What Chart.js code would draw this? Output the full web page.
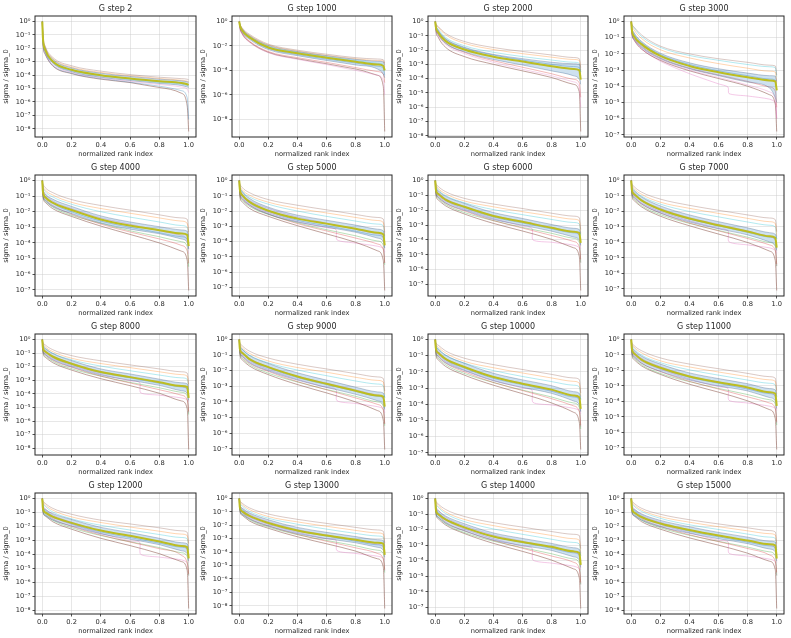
<!DOCTYPE html>
<html>
<head>
<meta charset="utf-8">
<script src="https://cdn.jsdelivr.net/npm/chart.js@4.4.1/dist/chart.umd.min.js"></script>
<style>
  html, body { margin: 0; padding: 0; background: #fff; }
  #wrap { position: relative; width: 791px; height: 638px; overflow: hidden; }
  #wrap canvas { position: absolute; }
</style>
</head>
<body>
<div id="wrap"></div>
<script>
// ---- data ----
const STEPS = [2, 1000, 2000, 3000, 4000, 5000, 6000, 7000, 8000, 9000, 10000, 11000, 12000, 13000, 14000, 15000];
const X = [0, 0.004, 0.02, 0.07, 0.2, 0.4, 0.6, 0.8, 0.95, 0.99, 1];
const X_KINK = [0, 0.004, 0.02, 0.07, 0.2, 0.4, 0.6, 0.665, 0.672, 0.8, 0.95, 0.99, 1];
const X_TICKS = [0, 0.2, 0.4, 0.6, 0.8, 1.0];
const Y_DECADES = [1, 1e-1, 1e-2, 1e-3, 1e-4, 1e-5, 1e-6, 1e-7, 1e-8, 1e-9];
const Y_LABELS = ['10⁰', '10⁻¹', '10⁻²', '10⁻³', '10⁻⁴', '10⁻⁵', '10⁻⁶', '10⁻⁷', '10⁻⁸', '10⁻⁹'];
const Y_LABEL_STEP = [1, 2, 1, 1, 1, 1, 1, 1, 1, 1, 1, 1, 1, 1, 1, 1];
const RUN_COLORS = ['#8c564b', '#ff7f0e', '#17becf', '#e377c2', '#1f77b4', '#d62728', '#2ca02c', '#8c564b'];

// step 2
const MEAN_2 = [1, 6.3e-2, 7.9e-3, 1.1e-3, 2.5e-4, 1e-4, 5.6e-5, 3.5e-5, 2.6e-5, 2.1e-5, 1.9e-5];
const HI_2 = [1, 8e-2, 1.1e-2, 1.6e-3, 3.5e-4, 1.4e-4, 8e-5, 5e-5, 3.8e-5, 3.2e-5, 3e-5];
const LO_2 = [1, 4.5e-2, 5.6e-3, 8e-4, 1.8e-4, 7e-5, 4e-5, 2.4e-5, 1.7e-5, 1.3e-5, 1.2e-5];
const RUNS_2 = [
  [1, 0.1, 1.5e-2, 2.2e-3, 5e-4, 2e-4, 1.1e-4, 7e-5, 5.5e-5, 5e-5, 4.5e-5],
  [1, 8e-2, 1.2e-2, 1.8e-3, 4e-4, 1.6e-4, 9e-5, 5.6e-5, 4.2e-5, 3.6e-5, 3.2e-5],
  [1, 5e-2, 6.3e-3, 9e-4, 2.2e-4, 9e-5, 5e-5, 3e-5, 2.2e-5, 1.7e-5, 1.5e-5],
  [1, 3.5e-2, 4.5e-3, 6.3e-4, 1.6e-4, 6.3e-5, 3.5e-5, 2e-5, 1.3e-5, 9e-6, 5e-6],
  [1, 3e-2, 4e-3, 5.6e-4, 1.4e-4, 5.6e-5, 3e-5, 1.5e-5, 7e-6, 2e-6, 5e-8],
  [1, 2.5e-2, 3.5e-3, 5e-4, 1.3e-4, 5e-5, 2.8e-5, 1.2e-5, 4.5e-6, 5e-7, 6.3e-9]
];

// step 1000
const MEAN_1000 = [1, 0.5, 0.18, 5e-2, 7.5e-3, 2.5e-3, 1.1e-3, 5.2e-4, 3e-4, 2.3e-4, 1e-4];
const HI_1000 = [1, 0.6, 0.25, 7e-2, 1.1e-2, 3.5e-3, 1.6e-3, 8e-4, 5.5e-4, 5e-4, 3e-4];
const LO_1000 = [1, 0.4, 0.13, 3.5e-2, 5e-3, 1.6e-3, 6.5e-4, 2.8e-4, 1.3e-4, 5e-5, 2.5e-5];
const RUNS_1000 = [
  [1, 0.65, 0.3, 9e-2, 1.4e-2, 4.5e-3, 2.1e-3, 1.1e-3, 8.5e-4, 7.5e-4, 4e-4],
  [1, 0.6, 0.25, 7.5e-2, 1.2e-2, 3.8e-3, 1.7e-3, 9e-4, 6.5e-4, 6e-4, 2e-4],
  [1, 0.55, 0.2, 6e-2, 9e-3, 3e-3, 1.3e-3, 6.3e-4, 3.8e-4, 3e-4, 1e-4],
  [1, 0.3, 9e-2, 2e-2, 2.8e-3, 8e-4, 3e-4, 1e-4, 4e-5, 1.5e-5, 1e-6],
  [1, 0.45, 0.16, 4.5e-2, 6.3e-3, 2e-3, 8.5e-4, 4e-4, 2.2e-4, 1.5e-4, 4e-5],
  [1, 0.35, 0.11, 2.5e-2, 3.5e-3, 1.1e-3, 4.5e-4, 1.7e-4, 8e-5, 5e-5, 1e-5],
  [1, 0.35, 0.1, 2.2e-2, 3e-3, 9e-4, 3.5e-4, 1.3e-4, 4e-5, 5e-6, 1e-9]
];

// step 2000
const MEAN_2000 = [1, 0.4, 0.17, 4.4e-2, 1.1e-2, 3.4e-3, 1.6e-3, 7.4e-4, 4.8e-4, 3.9e-4, 8.5e-5];
const HI_2000 = [1, 0.55, 0.25, 6.5e-2, 1.6e-2, 5e-3, 2.5e-3, 1.4e-3, 1.1e-3, 1e-3, 3e-4];
const LO_2000 = [1, 0.3, 0.12, 3e-2, 7.5e-3, 2.2e-3, 9e-4, 3.5e-4, 1.6e-4, 9e-5, 4e-5];
const RUNS_2000 = [
  [1, 0.7, 0.45, 0.15, 4e-2, 1.5e-2, 8e-3, 4.5e-3, 3e-3, 2.5e-3, 6e-4],
  [1, 0.65, 0.4, 0.12, 3e-2, 1.1e-2, 5.6e-3, 3.2e-3, 2.2e-3, 1.9e-3, 4e-4],
  [1, 0.55, 0.3, 8e-2, 2e-2, 7e-3, 3.5e-3, 2e-3, 1.4e-3, 1.2e-3, 3e-4],
  [1, 0.3, 0.1, 2.5e-2, 5.6e-3, 1.4e-3, 4.5e-4, 1.6e-4, 6e-5, 2.5e-5, 1e-6],
  [1, 0.5, 0.22, 6e-2, 1.4e-2, 4.5e-3, 2e-3, 1e-3, 7e-4, 6e-4, 1.5e-4],
  [1, 0.35, 0.13, 3.2e-2, 7e-3, 1.8e-3, 6.3e-4, 2.2e-4, 9e-5, 5e-5, 5e-6],
  [1, 0.25, 8e-2, 1.6e-2, 3.5e-3, 1e-3, 3.5e-4, 1.2e-4, 4e-5, 1.2e-5, 2e-8]
];

// step 3000
const MEAN_3000 = [1, 0.3, 0.12, 4e-2, 7.5e-3, 1.8e-3, 7.4e-4, 3.6e-4, 2.3e-4, 2e-4, 5.6e-5];
const HI_3000 = [1, 0.45, 0.2, 6e-2, 1.1e-2, 2.8e-3, 1.2e-3, 6.5e-4, 4.5e-4, 4.3e-4, 2e-4];
const LO_3000 = [1, 0.2, 8e-2, 2.5e-2, 5e-3, 1.2e-3, 4.5e-4, 1.8e-4, 8e-5, 2e-5, 1e-5];
const RUNS_3000 = [
  [1, 0.7, 0.45, 0.15, 3e-2, 1e-2, 5e-3, 3e-3, 2e-3, 1.8e-3, 5e-4],
  [1, 0.6, 0.3, 9e-2, 1.8e-2, 5.6e-3, 2.5e-3, 1.3e-3, 8.5e-4, 7.5e-4, 1.5e-4],
  [1, 0.65, 0.4, 0.12, 2.5e-2, 8e-3, 4e-3, 2.2e-3, 1.6e-3, 1.4e-3, 4e-4],
  [1, 0.2, 8e-2, 2.2e-2, 4.5e-3, 1e-3, 3.5e-4, 1.2e-4, 4.5e-5, 1.5e-5, 1e-6],
  [1, 0.4, 0.16, 5e-2, 9e-3, 2.2e-3, 9e-4, 4.5e-4, 2.8e-4, 2.4e-4, 6e-5],
  [1, 0.25, 0.1, 3e-2, 5.6e-3, 1.3e-3, 5e-4, 2e-4, 9e-5, 5e-5, 5e-6],
  [1, 0.2, 7e-2, 2e-2, 4e-3, 9e-4, 3e-4, 1e-4, 3e-5, 8e-6, 1.6e-7]
];
const KINK_3000 = [1, 0.2, 7e-2, 2e-2, 3.5e-3, 6e-4, 1.4e-4, 9e-5, 3.5e-5, 2.5e-5, 1.6e-5, 1e-5, 1e-6];

// step 4000
const MEAN_4000 = [1, 0.2, 8.5e-2, 3.8e-2, 1.3e-2, 3.2e-3, 1.3e-3, 6.6e-4, 4e-4, 3.3e-4, 6.3e-5];
const HI_4000 = [1, 0.32, 0.14, 6.5e-2, 2.2e-2, 5.4e-3, 2.2e-3, 1.1e-3, 6.8e-4, 5.6e-4, 2.5e-4];
const LO_4000 = [1, 0.125, 5e-2, 2.2e-2, 7.6e-3, 1.9e-3, 7.6e-4, 3.9e-4, 1.8e-4, 1.1e-4, 4.2e-5];
const RUNS_4000 = [
  [1, 0.63, 0.35, 0.17, 6e-2, 2.5e-2, 1.26e-2, 6.3e-3, 4e-3, 3.3e-3, 5e-4],
  [1, 0.5, 0.25, 0.12, 4e-2, 1.6e-2, 8e-3, 4e-3, 2.5e-3, 1.8e-3, 3e-4],
  [1, 0.45, 0.2, 9e-2, 3e-2, 1e-2, 4.5e-3, 2.2e-3, 1.3e-3, 1e-3, 2e-4],
  [1, 0.35, 0.14, 5e-2, 1.6e-2, 4e-3, 1.6e-3, 6e-4, 3e-4, 1.5e-4, 2e-5],
  [1, 0.25, 0.1, 3.5e-2, 1e-2, 2.5e-3, 1e-3, 4.5e-4, 2.5e-4, 1.8e-4, 4e-5],
  [1, 0.15, 6e-2, 2.5e-2, 7e-3, 1.6e-3, 5e-4, 1.8e-4, 7e-5, 3e-5, 5e-6],
  [1, 0.12, 5e-2, 2e-2, 6e-3, 1.8e-3, 6e-4, 2.5e-4, 1.2e-4, 6e-5, 3e-6],
  [1, 0.1, 4e-2, 1.6e-2, 5e-3, 1.2e-3, 3.5e-4, 1e-4, 3e-5, 8e-6, 9e-8]
];

// step 5000
const MEAN_5000 = [1, 0.25, 0.11, 4e-2, 1.05e-2, 3.2e-3, 1.5e-3, 7e-4, 3.8e-4, 3e-4, 5.6e-5];
const HI_5000 = [1, 0.4, 0.19, 6.8e-2, 1.8e-2, 5.4e-3, 2.5e-3, 1.2e-3, 6.5e-4, 5.1e-4, 2.2e-4];
const LO_5000 = [1, 0.16, 6.5e-2, 2.4e-2, 6.2e-3, 1.9e-3, 8.8e-4, 4.1e-4, 1.7e-4, 1e-4, 3.7e-5];
const RUNS_5000 = [
  [1, 0.63, 0.35, 0.16, 5.6e-2, 2.4e-2, 1.2e-2, 6e-3, 3.8e-3, 3e-3, 4e-4],
  [1, 0.5, 0.25, 0.11, 3.8e-2, 1.5e-2, 7.5e-3, 3.8e-3, 2.4e-3, 1.8e-3, 2.5e-4],
  [1, 0.45, 0.2, 8.5e-2, 2.8e-2, 1e-2, 4.5e-3, 2.2e-3, 1.4e-3, 1.1e-3, 1.6e-4],
  [1, 0.35, 0.14, 5e-2, 1.5e-2, 4e-3, 1.6e-3, 6.3e-4, 3.2e-4, 1.8e-4, 2e-5],
  [1, 0.25, 0.1, 3.5e-2, 1e-2, 2.5e-3, 1.1e-3, 4.8e-4, 2.6e-4, 1.9e-4, 4e-5],
  [1, 0.15, 6e-2, 2.4e-2, 6.5e-3, 1.5e-3, 5e-4, 1.7e-4, 7e-5, 3e-5, 4e-6],
  [1, 0.12, 5e-2, 2e-2, 6e-3, 1.7e-3, 6e-4, 2.4e-4, 1.1e-4, 6e-5, 3e-6],
  [1, 0.1, 4e-2, 1.5e-2, 4.5e-3, 1.1e-3, 3.2e-4, 9e-5, 2.5e-5, 6e-6, 6.3e-8]
];
const KINK_5000 = [1, 0.2, 8e-2, 2.8e-2, 8e-3, 2e-3, 8e-4, 6.3e-4, 1.3e-4, 8e-5, 5e-5, 3.5e-5, 4e-6];

// step 6000
const MEAN_6000 = [1, 0.25, 0.126, 5.2e-2, 1.7e-2, 4.1e-3, 1.66e-3, 6.6e-4, 3.6e-4, 3e-4, 6.3e-5];
const HI_6000 = [1, 0.4, 0.21, 8.8e-2, 2.9e-2, 7e-3, 2.8e-3, 1.1e-3, 6.1e-4, 5.1e-4, 2.5e-4];
const LO_6000 = [1, 0.16, 7.4e-2, 3.1e-2, 1e-2, 2.4e-3, 9.8e-4, 3.9e-4, 1.6e-4, 1e-4, 4.2e-5];
const RUNS_6000 = [
  [1, 0.63, 0.4, 0.18, 6.3e-2, 2.6e-2, 1.3e-2, 6.3e-3, 4e-3, 3.2e-3, 5e-4],
  [1, 0.55, 0.3, 0.13, 4.2e-2, 1.7e-2, 8e-3, 4e-3, 2.5e-3, 2e-3, 3e-4],
  [1, 0.5, 0.25, 0.1, 3.2e-2, 1.1e-2, 5e-3, 2.4e-3, 1.5e-3, 1.2e-3, 2e-4],
  [1, 0.4, 0.18, 6.3e-2, 1.8e-2, 4.5e-3, 1.8e-3, 7e-4, 3.5e-4, 2e-4, 2.5e-5],
  [1, 0.3, 0.14, 5e-2, 1.5e-2, 3.5e-3, 1.4e-3, 5.6e-4, 3e-4, 2.2e-4, 5e-5],
  [1, 0.2, 8e-2, 3e-2, 9e-3, 2e-3, 6.3e-4, 2e-4, 8e-5, 3.5e-5, 5e-6],
  [1, 0.15, 6.3e-2, 2.5e-2, 7e-3, 2e-3, 7e-4, 2.8e-4, 1.3e-4, 7e-5, 3e-6],
  [1, 0.12, 5e-2, 2e-2, 5.6e-3, 1.3e-3, 4e-4, 1.1e-4, 3e-5, 8e-6, 4e-8]
];
const KINK_6000 = [1, 0.25, 0.1, 4e-2, 1.2e-2, 2.8e-3, 8.5e-4, 6e-4, 1e-4, 7e-5, 4.5e-5, 3e-5, 3e-6];

// step 7000
const MEAN_7000 = [1, 0.25, 0.13, 5.2e-2, 1.35e-2, 3.5e-3, 1.3e-3, 5.2e-4, 2.5e-4, 2e-4, 4.6e-5];
const HI_7000 = [1, 0.4, 0.22, 8.8e-2, 2.3e-2, 6e-3, 2.2e-3, 8.8e-4, 4.3e-4, 3.4e-4, 1.8e-4];
const LO_7000 = [1, 0.16, 7.6e-2, 3.1e-2, 7.9e-3, 2.1e-3, 7.6e-4, 3.1e-4, 1.1e-4, 6.7e-5, 3.1e-5];
const RUNS_7000 = [
  [1, 0.63, 0.4, 0.18, 6.3e-2, 2.5e-2, 1.2e-2, 6e-3, 3.8e-3, 3e-3, 5e-4],
  [1, 0.55, 0.3, 0.13, 4e-2, 1.6e-2, 7.5e-3, 3.6e-3, 2.2e-3, 1.7e-3, 2.5e-4],
  [1, 0.5, 0.25, 0.1, 3e-2, 1e-2, 4.5e-3, 2.1e-3, 1.3e-3, 1e-3, 1.6e-4],
  [1, 0.4, 0.18, 6e-2, 1.6e-2, 4e-3, 1.5e-3, 5.6e-4, 2.5e-4, 1.4e-4, 2e-5],
  [1, 0.3, 0.14, 5e-2, 1.3e-2, 3.2e-3, 1.2e-3, 4.5e-4, 2.2e-4, 1.6e-4, 4e-5],
  [1, 0.2, 8e-2, 3e-2, 8e-3, 1.8e-3, 5.6e-4, 1.8e-4, 7e-5, 3e-5, 4e-6],
  [1, 0.15, 6.3e-2, 2.4e-2, 6.3e-3, 1.7e-3, 6e-4, 2.2e-4, 1e-4, 5.6e-5, 3e-6],
  [1, 0.12, 5e-2, 2e-2, 5e-3, 1.2e-3, 3.5e-4, 1e-4, 2.8e-5, 7e-6, 8e-8]
];
const KINK_7000 = [1, 0.25, 0.1, 3.5e-2, 1e-2, 2.5e-3, 8e-4, 6e-4, 1.1e-4, 7e-5, 4.5e-5, 3e-5, 3e-6];

// step 8000
const MEAN_8000 = [1, 0.25, 0.13, 5.6e-2, 1.66e-2, 4e-3, 1.7e-3, 7.2e-4, 3.8e-4, 3.2e-4, 5e-5];
const HI_8000 = [1, 0.4, 0.22, 9.5e-2, 2.8e-2, 6.8e-3, 2.9e-3, 1.2e-3, 6.5e-4, 5.4e-4, 2e-4];
const LO_8000 = [1, 0.16, 7.6e-2, 3.3e-2, 9.8e-3, 2.4e-3, 1e-3, 4.2e-4, 1.7e-4, 1.1e-4, 3.3e-5];
const RUNS_8000 = [
  [1, 0.63, 0.4, 0.18, 6.5e-2, 2.7e-2, 1.35e-2, 6.8e-3, 4.2e-3, 3.4e-3, 5e-4],
  [1, 0.55, 0.3, 0.13, 4.2e-2, 1.7e-2, 8.5e-3, 4.2e-3, 2.6e-3, 2e-3, 3e-4],
  [1, 0.5, 0.25, 0.1, 3.2e-2, 1.1e-2, 5e-3, 2.4e-3, 1.5e-3, 1.2e-3, 2e-4],
  [1, 0.4, 0.18, 6.3e-2, 1.8e-2, 4.5e-3, 1.8e-3, 7e-4, 3.5e-4, 2e-4, 2.5e-5],
  [1, 0.3, 0.14, 5e-2, 1.5e-2, 3.6e-3, 1.5e-3, 6e-4, 3.2e-4, 2.4e-4, 5e-5],
  [1, 0.2, 8e-2, 3e-2, 9e-3, 2e-3, 6.3e-4, 2e-4, 8e-5, 3.5e-5, 5e-6],
  [1, 0.15, 6.3e-2, 2.5e-2, 7e-3, 2e-3, 7e-4, 2.8e-4, 1.3e-4, 7e-5, 3e-6],
  [1, 0.12, 5e-2, 2e-2, 5.6e-3, 1.3e-3, 4e-4, 1.1e-4, 3e-5, 8e-6, 8e-9]
];
const KINK_8000 = [1, 0.25, 0.1, 4e-2, 1.2e-2, 2.8e-3, 9e-4, 7e-4, 1.2e-4, 8e-5, 5e-5, 3.5e-5, 4e-6];

// step 9000
const MEAN_9000 = [1, 0.25, 0.14, 5.6e-2, 1.7e-2, 4.3e-3, 1.45e-3, 5.2e-4, 2.6e-4, 2.2e-4, 5e-5];
const HI_9000 = [1, 0.4, 0.24, 9.5e-2, 2.9e-2, 7.3e-3, 2.5e-3, 8.8e-4, 4.4e-4, 3.7e-4, 2e-4];
const LO_9000 = [1, 0.16, 8.2e-2, 3.3e-2, 1e-2, 2.5e-3, 8.5e-4, 3.1e-4, 1.2e-4, 7.3e-5, 3.3e-5];
const RUNS_9000 = [
  [1, 0.63, 0.4, 0.18, 6.5e-2, 2.6e-2, 1.3e-2, 6.5e-3, 4e-3, 3.2e-3, 5e-4],
  [1, 0.55, 0.3, 0.13, 4.2e-2, 1.6e-2, 8e-3, 3.8e-3, 2.4e-3, 1.9e-3, 3e-4],
  [1, 0.5, 0.25, 0.1, 3.2e-2, 1.1e-2, 4.8e-3, 2.2e-3, 1.4e-3, 1.1e-3, 1.8e-4],
  [1, 0.4, 0.18, 6.3e-2, 1.8e-2, 4.5e-3, 1.6e-3, 6e-4, 2.8e-4, 1.6e-4, 2e-5],
  [1, 0.3, 0.14, 5e-2, 1.5e-2, 3.6e-3, 1.3e-3, 4.8e-4, 2.3e-4, 1.7e-4, 4e-5],
  [1, 0.2, 8e-2, 3e-2, 9e-3, 2e-3, 6e-4, 1.8e-4, 7e-5, 3e-5, 4e-6],
  [1, 0.15, 6.3e-2, 2.5e-2, 7e-3, 1.9e-3, 6.3e-4, 2.3e-4, 1e-4, 5.6e-5, 3e-6],
  [1, 0.12, 5e-2, 2e-2, 5.6e-3, 1.3e-3, 3.8e-4, 1e-4, 2.8e-5, 7e-6, 9e-8]
];
const KINK_9000 = [1, 0.25, 0.1, 4e-2, 1.2e-2, 2.8e-3, 8.5e-4, 6.5e-4, 1.2e-4, 8e-5, 5e-5, 3.5e-5, 4e-6];

// step 10000
const MEAN_10000 = [1, 0.28, 0.15, 6.3e-2, 2e-2, 4.8e-3, 1.86e-3, 8e-4, 3.5e-4, 2.75e-4, 5.1e-5];
const HI_10000 = [1, 0.45, 0.26, 0.11, 3.4e-2, 8.2e-3, 3.2e-3, 1.4e-3, 6e-4, 4.7e-4, 2e-4];
const LO_10000 = [1, 0.18, 8.8e-2, 3.7e-2, 1.2e-2, 2.8e-3, 1.1e-3, 4.7e-4, 1.6e-4, 9e-5, 3.4e-5];
const RUNS_10000 = [
  [1, 0.63, 0.45, 0.2, 7e-2, 2.8e-2, 1.4e-2, 7e-3, 4.2e-3, 3.4e-3, 5e-4],
  [1, 0.56, 0.35, 0.15, 4.5e-2, 1.8e-2, 8.5e-3, 4.2e-3, 2.6e-3, 2e-3, 3e-4],
  [1, 0.5, 0.28, 0.11, 3.5e-2, 1.2e-2, 5.2e-3, 2.5e-3, 1.5e-3, 1.2e-3, 2e-4],
  [1, 0.4, 0.2, 7e-2, 2e-2, 5e-3, 1.9e-3, 7e-4, 3.2e-4, 1.8e-4, 2.5e-5],
  [1, 0.32, 0.16, 5.6e-2, 1.7e-2, 4e-3, 1.6e-3, 6.3e-4, 2.8e-4, 2e-4, 4e-5],
  [1, 0.22, 9e-2, 3.5e-2, 1e-2, 2.2e-3, 7e-4, 2.2e-4, 8e-5, 3.5e-5, 5e-6],
  [1, 0.16, 7e-2, 2.8e-2, 8e-3, 2.2e-3, 7.5e-4, 2.8e-4, 1.2e-4, 6.3e-5, 3e-6],
  [1, 0.13, 5.6e-2, 2.2e-2, 6.3e-3, 1.5e-3, 4.5e-4, 1.2e-4, 3.2e-5, 8e-6, 1.6e-7]
];
const KINK_10000 = [1, 0.25, 0.12, 4.5e-2, 1.3e-2, 3e-3, 1e-3, 7.5e-4, 1.3e-4, 9e-5, 5.6e-5, 4e-5, 4e-6];

// step 11000
const MEAN_11000 = [1, 0.25, 0.126, 5e-2, 1.5e-2, 4.1e-3, 1.74e-3, 8.1e-4, 4e-4, 3.3e-4, 5.2e-5];
const HI_11000 = [1, 0.4, 0.21, 8.5e-2, 2.6e-2, 7e-3, 3e-3, 1.4e-3, 6.8e-4, 5.6e-4, 2.1e-4];
const LO_11000 = [1, 0.16, 7.4e-2, 2.9e-2, 8.8e-3, 2.4e-3, 1e-3, 4.8e-4, 1.8e-4, 1.1e-4, 3.5e-5];
const RUNS_11000 = [
  [1, 0.63, 0.4, 0.19, 6.5e-2, 2.6e-2, 1.3e-2, 6.5e-3, 4e-3, 3.2e-3, 5e-4],
  [1, 0.55, 0.32, 0.14, 4.2e-2, 1.7e-2, 8e-3, 4e-3, 2.5e-3, 2e-3, 3e-4],
  [1, 0.5, 0.26, 0.1, 3.2e-2, 1.1e-2, 5e-3, 2.4e-3, 1.5e-3, 1.2e-3, 2e-4],
  [1, 0.4, 0.18, 6.3e-2, 1.8e-2, 4.5e-3, 1.8e-3, 7e-4, 3.5e-4, 2e-4, 2.5e-5],
  [1, 0.3, 0.14, 5e-2, 1.4e-2, 3.6e-3, 1.5e-3, 6.3e-4, 3.2e-4, 2.4e-4, 5e-5],
  [1, 0.2, 8e-2, 3e-2, 8.5e-3, 2e-3, 6.3e-4, 2e-4, 8e-5, 3.5e-5, 5e-6],
  [1, 0.15, 6.3e-2, 2.4e-2, 6.5e-3, 1.9e-3, 7e-4, 2.8e-4, 1.3e-4, 7e-5, 3e-6],
  [1, 0.12, 5e-2, 2e-2, 5.6e-3, 1.3e-3, 4e-4, 1.1e-4, 3e-5, 8e-6, 8e-8]
];
const KINK_11000 = [1, 0.25, 0.1, 4e-2, 1.2e-2, 2.8e-3, 9e-4, 7e-4, 1.2e-4, 8e-5, 5e-5, 3.5e-5, 4e-6];

// step 12000
const MEAN_12000 = [1, 0.2, 0.1, 5e-2, 1.8e-2, 5e-3, 2.1e-3, 8.3e-4, 4e-4, 3.3e-4, 5e-5];
const HI_12000 = [1, 0.32, 0.17, 8.5e-2, 3.1e-2, 8.5e-3, 3.6e-3, 1.4e-3, 6.8e-4, 5.6e-4, 2e-4];
const LO_12000 = [1, 0.125, 5.9e-2, 2.9e-2, 1.06e-2, 2.9e-3, 1.2e-3, 4.9e-4, 1.8e-4, 1.1e-4, 3.3e-5];
const RUNS_12000 = [
  [1, 0.7, 0.45, 0.2, 7.4e-2, 2.8e-2, 1.5e-2, 7.9e-3, 4.8e-3, 3.8e-3, 6e-4],
  [1, 0.6, 0.35, 0.15, 4.8e-2, 1.9e-2, 9e-3, 4.5e-3, 2.8e-3, 2.2e-3, 3e-4],
  [1, 0.5, 0.28, 0.11, 3.5e-2, 1.2e-2, 5.5e-3, 2.6e-3, 1.6e-3, 1.3e-3, 2e-4],
  [1, 0.4, 0.2, 7e-2, 2e-2, 5e-3, 2e-3, 8e-4, 4e-4, 2.2e-4, 2.5e-5],
  [1, 0.3, 0.15, 5.6e-2, 1.6e-2, 4e-3, 1.6e-3, 6.3e-4, 3.2e-4, 2.4e-4, 5e-5],
  [1, 0.2, 9e-2, 3.5e-2, 1e-2, 2.4e-3, 7.5e-4, 2.5e-4, 8.5e-5, 2.2e-5, 4e-6],
  [1, 0.15, 7e-2, 2.8e-2, 8e-3, 2.2e-3, 8e-4, 3e-4, 1.3e-4, 7e-5, 3e-6],
  [1, 0.12, 5.6e-2, 2.2e-2, 6.3e-3, 1.4e-3, 4.2e-4, 1.1e-4, 3e-5, 7e-6, 1.3e-8]
];
const KINK_12000 = [1, 0.22, 0.1, 4.5e-2, 1.4e-2, 3.2e-3, 9e-4, 7.4e-4, 1e-4, 6.3e-5, 4e-5, 2.5e-5, 3e-6];

// step 13000
const MEAN_13000 = [1, 0.22, 0.11, 5e-2, 1.5e-2, 4.1e-3, 1.74e-3, 8.5e-4, 5e-4, 4.3e-4, 6.3e-5];
const HI_13000 = [1, 0.35, 0.19, 8.5e-2, 2.6e-2, 7e-3, 3e-3, 1.45e-3, 8.5e-4, 7.3e-4, 2.5e-4];
const LO_13000 = [1, 0.14, 6.5e-2, 2.9e-2, 8.8e-3, 2.4e-3, 1e-3, 5e-4, 2.3e-4, 1.4e-4, 4.2e-5];
const RUNS_13000 = [
  [1, 0.7, 0.45, 0.2, 7e-2, 2.8e-2, 1.4e-2, 7e-3, 4.5e-3, 3.6e-3, 5e-4],
  [1, 0.6, 0.35, 0.15, 4.5e-2, 1.8e-2, 8.5e-3, 4.2e-3, 2.7e-3, 2.2e-3, 3e-4],
  [1, 0.5, 0.28, 0.11, 3.4e-2, 1.2e-2, 5.2e-3, 2.5e-3, 1.6e-3, 1.3e-3, 2e-4],
  [1, 0.4, 0.2, 7e-2, 1.9e-2, 4.8e-3, 1.9e-3, 7.5e-4, 3.8e-4, 2.2e-4, 2.5e-5],
  [1, 0.3, 0.15, 5.6e-2, 1.5e-2, 3.8e-3, 1.6e-3, 6.5e-4, 3.5e-4, 2.8e-4, 6e-5],
  [1, 0.2, 9e-2, 3.2e-2, 9e-3, 2.1e-3, 6.5e-4, 2.1e-4, 8e-5, 3e-5, 5e-6],
  [1, 0.15, 7e-2, 2.6e-2, 7.5e-3, 2e-3, 7.5e-4, 3e-4, 1.4e-4, 8e-5, 3e-6],
  [1, 0.12, 5.6e-2, 2.1e-2, 6e-3, 1.4e-3, 4.2e-4, 1.2e-4, 3.2e-5, 8e-6, 6.3e-9]
];
const KINK_13000 = [1, 0.22, 0.1, 4e-2, 1.2e-2, 3e-3, 1e-3, 8e-4, 1.3e-4, 8e-5, 5e-5, 3.5e-5, 4e-6];

// step 14000
const MEAN_14000 = [1, 0.2, 0.1, 4.5e-2, 1.4e-2, 3.6e-3, 1.6e-3, 7.8e-4, 4e-4, 3.2e-4, 5.5e-5];
const HI_14000 = [1, 0.32, 0.17, 7.6e-2, 2.4e-2, 6.1e-3, 2.7e-3, 1.3e-3, 6.8e-4, 5.4e-4, 2.2e-4];
const LO_14000 = [1, 0.125, 5.9e-2, 2.6e-2, 8.2e-3, 2.1e-3, 9.4e-4, 4.6e-4, 1.8e-4, 1.1e-4, 3.7e-5];
const RUNS_14000 = [
  [1, 0.7, 0.45, 0.2, 7e-2, 2.8e-2, 1.45e-2, 7.5e-3, 5e-3, 4.2e-3, 6e-4],
  [1, 0.6, 0.35, 0.14, 4.5e-2, 1.8e-2, 8.5e-3, 4.2e-3, 2.6e-3, 2.1e-3, 3e-4],
  [1, 0.5, 0.28, 0.11, 3.3e-2, 1.1e-2, 5e-3, 2.4e-3, 1.5e-3, 1.2e-3, 2e-4],
  [1, 0.4, 0.19, 6.5e-2, 1.8e-2, 4.5e-3, 1.8e-3, 7e-4, 3.5e-4, 2e-4, 2.5e-5],
  [1, 0.3, 0.14, 5e-2, 1.4e-2, 3.5e-3, 1.5e-3, 6.3e-4, 3.2e-4, 2.4e-4, 5e-5],
  [1, 0.2, 8.5e-2, 3e-2, 8.5e-3, 2e-3, 6.3e-4, 2e-4, 8e-5, 3e-5, 4e-6],
  [1, 0.15, 6.5e-2, 2.4e-2, 6.5e-3, 1.8e-3, 7e-4, 2.8e-4, 1.3e-4, 7e-5, 3e-6],
  [1, 0.12, 5e-2, 2e-2, 5.6e-3, 1.3e-3, 4e-4, 1.1e-4, 3e-5, 8e-6, 8.5e-8]
];
const KINK_14000 = [1, 0.22, 0.1, 4e-2, 1.1e-2, 2.6e-3, 8.5e-4, 6.5e-4, 1.1e-4, 7e-5, 4.5e-5, 3e-5, 3e-6];

// step 15000
const MEAN_15000 = [1, 0.2, 0.1, 4.7e-2, 1.6e-2, 5.5e-3, 2.2e-3, 9.8e-4, 5.2e-4, 4.4e-4, 5e-5];
const HI_15000 = [1, 0.32, 0.17, 8e-2, 2.7e-2, 9.4e-3, 3.7e-3, 1.7e-3, 8.8e-4, 7.5e-4, 2e-4];
const LO_15000 = [1, 0.125, 5.9e-2, 2.8e-2, 9.4e-3, 3.2e-3, 1.3e-3, 5.8e-4, 2.4e-4, 1.5e-4, 3.3e-5];
const RUNS_15000 = [
  [1, 0.7, 0.45, 0.2, 7.4e-2, 3e-2, 1.5e-2, 7.9e-3, 5e-3, 4e-3, 6e-4],
  [1, 0.6, 0.35, 0.15, 5e-2, 2e-2, 9.5e-3, 4.8e-3, 3e-3, 2.4e-3, 3e-4],
  [1, 0.5, 0.28, 0.12, 3.8e-2, 1.3e-2, 6e-3, 2.8e-3, 1.7e-3, 1.4e-3, 2e-4],
  [1, 0.4, 0.2, 7e-2, 2e-2, 5.5e-3, 2.2e-3, 9e-4, 4.5e-4, 2.5e-4, 2.5e-5],
  [1, 0.3, 0.15, 5.6e-2, 1.7e-2, 4.5e-3, 1.8e-3, 7.5e-4, 4e-4, 3e-4, 6e-5],
  [1, 0.2, 9e-2, 3.5e-2, 1e-2, 2.5e-3, 8e-4, 2.6e-4, 9e-5, 3e-5, 5e-6],
  [1, 0.15, 7e-2, 2.8e-2, 8e-3, 2.3e-3, 8.5e-4, 3.3e-4, 1.5e-4, 8e-5, 3e-6],
  [1, 0.12, 5.6e-2, 2.2e-2, 6.3e-3, 1.5e-3, 4.5e-4, 1.2e-4, 3.2e-5, 8e-6, 1.3e-8]
];
const KINK_15000 = [1, 0.22, 0.1, 4.5e-2, 1.4e-2, 3.5e-3, 1e-3, 8e-4, 1.2e-4, 7.5e-5, 4.5e-5, 3e-5, 3e-6];

// lookup table per panel, built from the arrays above
const PANELS = [
  [MEAN_2, HI_2, LO_2, RUNS_2, null],
  [MEAN_1000, HI_1000, LO_1000, RUNS_1000, null],
  [MEAN_2000, HI_2000, LO_2000, RUNS_2000, null],
  [MEAN_3000, HI_3000, LO_3000, RUNS_3000, KINK_3000],
  [MEAN_4000, HI_4000, LO_4000, RUNS_4000, null],
  [MEAN_5000, HI_5000, LO_5000, RUNS_5000, KINK_5000],
  [MEAN_6000, HI_6000, LO_6000, RUNS_6000, KINK_6000],
  [MEAN_7000, HI_7000, LO_7000, RUNS_7000, KINK_7000],
  [MEAN_8000, HI_8000, LO_8000, RUNS_8000, KINK_8000],
  [MEAN_9000, HI_9000, LO_9000, RUNS_9000, KINK_9000],
  [MEAN_10000, HI_10000, LO_10000, RUNS_10000, KINK_10000],
  [MEAN_11000, HI_11000, LO_11000, RUNS_11000, KINK_11000],
  [MEAN_12000, HI_12000, LO_12000, RUNS_12000, KINK_12000],
  [MEAN_13000, HI_13000, LO_13000, RUNS_13000, KINK_13000],
  [MEAN_14000, HI_14000, LO_14000, RUNS_14000, KINK_14000],
  [MEAN_15000, HI_15000, LO_15000, RUNS_15000, KINK_15000]
];

// ---- layout ----
const COL_LEFT = [35, 232, 428, 624];
const COL_RIGHT = [196, 392, 588, 784];
const ROW_TOP = [16, 175, 334, 493];
const PLOT_H = 121;
const PAD_L = 36, PAD_T = 16, PAD_R = 8, PAD_B = 24;

const GRID = 'rgba(200,200,200,0.55)';
const INK = '#262626';
const FONT = "'DejaVu Sans', sans-serif";

Chart.defaults.font.family = FONT;
Chart.defaults.animation = false;

function rgba(hex, a) {
  const n = parseInt(hex.slice(1), 16);
  return 'rgba(' + (n >> 16) + ',' + ((n >> 8) & 255) + ',' + (n & 255) + ',' + a + ')';
}
function pts(xs, ys) {
  return xs.map((x, i) => ({ x: x, y: ys[i] }));
}

const panelText = {
  id: 'panelText',
  afterDraw(chart, args, opts) {
    const { ctx, chartArea: a } = chart;
    ctx.save();
    ctx.strokeStyle = INK;
    ctx.lineWidth = 1;
    ctx.strokeRect(a.left, a.top, a.right - a.left, a.bottom - a.top);
    ctx.fillStyle = INK;
    ctx.textAlign = 'center';
    ctx.textBaseline = 'middle';
    ctx.font = '8px ' + FONT;
    ctx.fillText(opts.title, (a.left + a.right) / 2, a.top - 7);
    ctx.font = '6.7px ' + FONT;
    ctx.fillText('normalized rank index', (a.left + a.right) / 2, a.bottom + 17.5);
    ctx.translate(a.left - 29, (a.top + a.bottom) / 2);
    ctx.rotate(-Math.PI / 2);
    ctx.fillText('sigma / sigma_0', 0, 0);
    ctx.restore();
  }
};

const wrap = document.getElementById('wrap');

PANELS.forEach(([mean, hi, lo, runs, kink], i) => {
  const col = i % 4, row = Math.floor(i / 4);
  const plotW = COL_RIGHT[col] - COL_LEFT[col];
  const W = PAD_L + plotW + PAD_R, H = PAD_T + PLOT_H + PAD_B;
  const cv = document.createElement('canvas');
  cv.width = W; cv.height = H;
  cv.style.width = W + 'px'; cv.style.height = H + 'px';
  cv.style.left = (COL_LEFT[col] - PAD_L) + 'px';
  cv.style.top = (ROW_TOP[row] - PAD_T) + 'px';
  wrap.appendChild(cv);

  // y limits like matplotlib: data range in log space plus 5% margins
  const all = [mean, hi, lo].concat(runs, kink ? [kink] : []).flat();
  const lgMin = Math.log10(Math.min(...all)), lgMax = Math.log10(Math.max(...all));
  const span = lgMax - lgMin;
  const yMin = Math.pow(10, lgMin - 0.05 * span);
  const yMax = Math.pow(10, lgMax + 0.05 * span);
  const yTicks = Y_DECADES.filter((d, k) => d >= yMin && d <= yMax && k % Y_LABEL_STEP[i] === 0);

  const datasets = [];
  datasets.push({ data: pts(X, mean), borderColor: '#bcbd22', borderWidth: 2, order: 0 });
  datasets.push({ data: pts(X, hi), borderColor: 'rgba(80,105,140,0.45)', borderWidth: 0.8,
    fill: '+1', backgroundColor: 'rgba(31,119,180,0.22)', order: 1 });
  datasets.push({ data: pts(X, lo), borderColor: 'rgba(80,105,140,0.45)', borderWidth: 0.8, order: 1 });
  runs.forEach((r, k) => {
    const last = k === runs.length - 1;
    datasets.push({ data: pts(X, r), borderColor: rgba(last ? '#8c564b' : RUN_COLORS[k], last ? 0.55 : 0.32),
      borderWidth: 1, order: 2 });
  });
  if (kink) {
    datasets.push({ data: pts(X_KINK, kink), borderColor: rgba('#e377c2', 0.4), borderWidth: 1, order: 2,
      cubicInterpolationMode: 'default', tension: 0.25 });
  }

  new Chart(cv, {
    type: 'line',
    data: { datasets: datasets },
    options: {
      responsive: false,
      animation: false,
      events: [],
      layout: { padding: { left: 0, top: PAD_T, right: PAD_R, bottom: 0 } },
      elements: {
        point: { radius: 0 },
        line: { cubicInterpolationMode: 'monotone', fill: false }
      },
      plugins: {
        legend: { display: false },
        tooltip: { enabled: false },
        panelText: { title: 'G step ' + STEPS[i] }
      },
      scales: {
        x: {
          type: 'linear', min: -0.05, max: 1.05, bounds: 'data',
          afterBuildTicks: s => { s.ticks = X_TICKS.map(v => ({ value: v })); },
          afterFit: s => { s.height = PAD_B; },
          ticks: { callback: v => v.toFixed(1), font: { size: 6.7 }, color: INK, padding: 1.5,
            maxRotation: 0, autoSkip: false },
          grid: { color: GRID, lineWidth: 0.8, tickLength: 2.5, tickColor: INK, tickWidth: 0.8 },
          border: { display: false }
        },
        y: {
          type: 'logarithmic', min: yMin, max: yMax, bounds: 'data',
          afterBuildTicks: s => { s.ticks = yTicks.map(v => ({ value: v })); },
          afterFit: s => { s.width = PAD_L; },
          ticks: {
            callback: v => Y_LABELS[Y_DECADES.findIndex(d => Math.abs(Math.log10(d) - Math.log10(v)) < 1e-6)],
            font: { size: 6.7 }, color: INK, padding: 2, autoSkip: false
          },
          grid: { color: GRID, lineWidth: 0.8, tickLength: 2.5, tickColor: INK, tickWidth: 0.8 },
          border: { display: false }
        }
      }
    },
    plugins: [panelText]
  });
});
</script>
</body>
</html>
